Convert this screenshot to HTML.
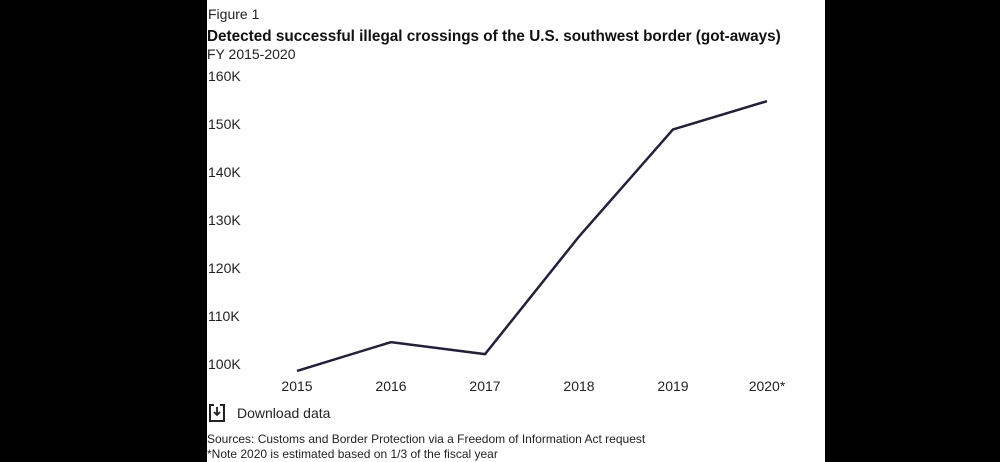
<!DOCTYPE html>
<html><head><meta charset="utf-8"><style>
body{margin:0;width:1000px;height:462px;background:#000;overflow:hidden;font-family:"Liberation Sans",Arial,sans-serif}
#panel{position:absolute;left:207px;top:0;width:618px;height:462px;background:#fff}
.t{position:absolute;white-space:nowrap;color:#222}
</style></head><body>
<div id="panel">
<div class="t" style="left:1px;top:6px;font-size:14px">Figure 1</div>
<div class="t" style="left:0;top:28px;font-size:15.3px;font-weight:bold;color:#111">Detected successful illegal crossings of the U.S. southwest border (got-aways)</div>
<div class="t" style="left:0;top:46px;font-size:14px">FY 2015-2020</div>
<svg id="c" width="618" height="462" style="position:absolute;left:0;top:0"></svg>
<div class="t" style="left:2px;top:404px;font-size:14px">
<svg width="16" height="18" style="vertical-align:-4px;margin-right:12px"><path d="M5 1H1V17H15V1H11" fill="none" stroke="#222" stroke-width="2"/><path d="M8 3V11M5 8L8 11L11 8" fill="none" stroke="#222" stroke-width="1.8"/></svg>Download data</div>
<div class="t" style="left:0;top:432px;font-size:12px">Sources: Customs and Border Protection via a Freedom of Information Act request</div>
<div class="t" style="left:0;top:447px;font-size:12px">*Note 2020 is estimated based on 1/3 of the fiscal year</div>
</div>
<script>
const categories=["2015","2016","2017","2018","2019","2020*"];
const values=[99.6,105.6,103.1,127.6,149.9,155.8];
const yTicks=[100,110,120,130,140,150,160];
const yTickLabels=["100K","110K","120K","130K","140K","150K","160K"];
const ns="http://www.w3.org/2000/svg";
const svg=document.getElementById('c');
const x=i=>90+i*94;
const y=v=>369-(v-100)*4.8;
yTicks.forEach((t,i)=>{const e=document.createElementNS(ns,'text');
e.setAttribute('x',1);e.setAttribute('y',y(t));e.setAttribute('font-size','14');e.setAttribute('fill','#222');
e.setAttribute('font-family','Liberation Sans, sans-serif');e.textContent=yTickLabels[i];


svg.appendChild(e);});
categories.forEach((c,i)=>{const e=document.createElementNS(ns,'text');
e.setAttribute('x',x(i));e.setAttribute('y',391);e.setAttribute('font-size','14');e.setAttribute('fill','#222');
e.setAttribute('text-anchor','middle');e.setAttribute('font-family','Liberation Sans, sans-serif');e.textContent=c;


svg.appendChild(e);});
const p=document.createElementNS(ns,'polyline');
p.setAttribute('points',values.map((v,i)=>x(i)+','+y(v)).join(' '));
p.setAttribute('fill','none');p.setAttribute('stroke','#23203a');p.setAttribute('stroke-width','2.5');


svg.appendChild(p);
</script>
</body></html>
